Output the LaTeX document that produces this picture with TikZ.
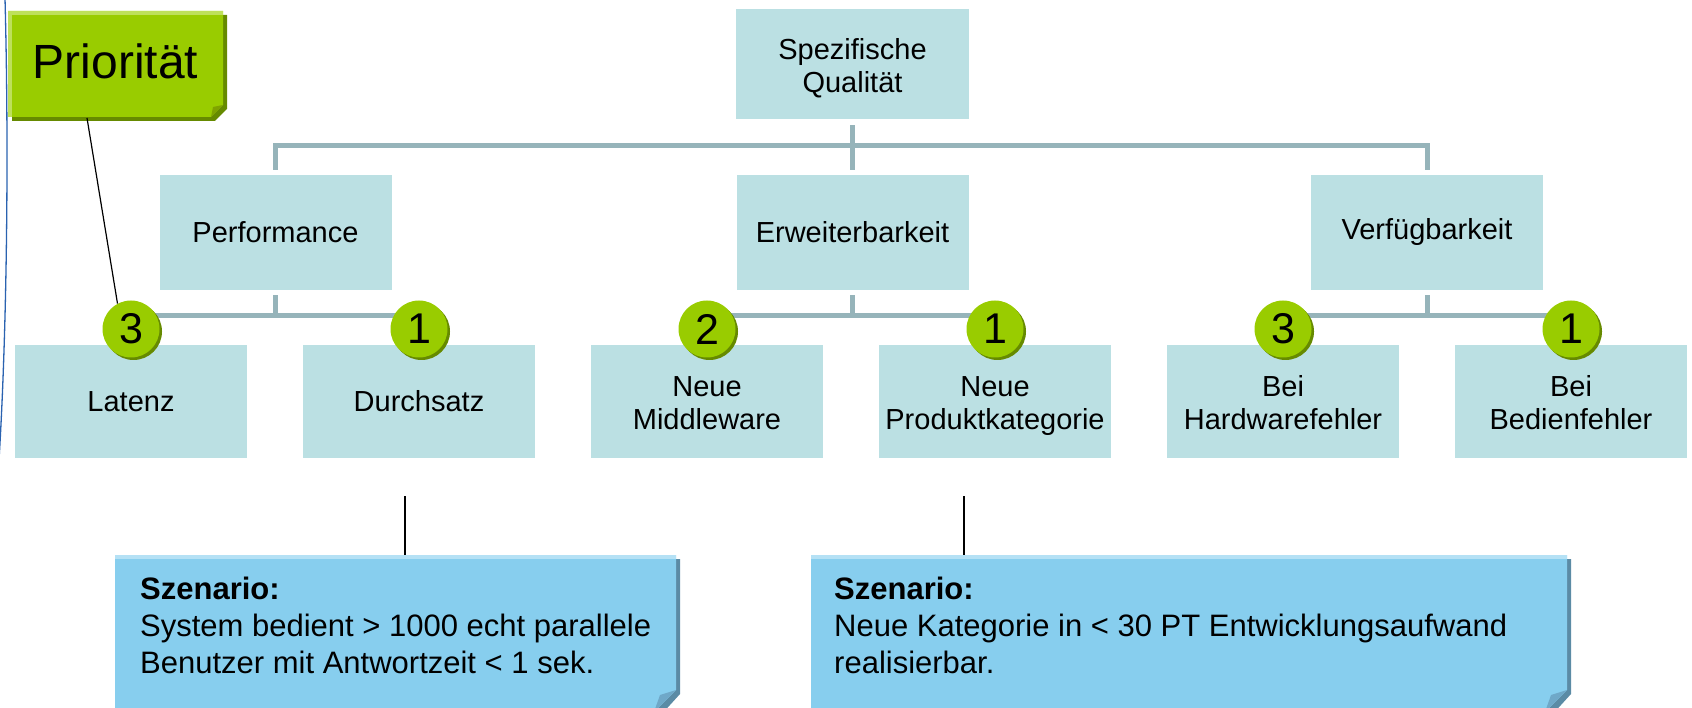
\documentclass[tikz,border=0pt]{standalone}
\usepackage{fontspec}
\setmainfont{Liberation Sans}
\usetikzlibrary{shadows,calc}
\definecolor{boxc}{HTML}{BBE0E3}
\definecolor{barc}{HTML}{96B4BA}
\definecolor{bgreen}{HTML}{99CC00}
\definecolor{bdark}{HTML}{668A00}
\definecolor{glight}{HTML}{BEE05A}
\definecolor{gfold}{HTML}{7FA300}
\definecolor{scenc}{HTML}{87CEEE}
\definecolor{scdark}{HTML}{5B8BA5}
\definecolor{sclight}{HTML}{B5E1F5}
\definecolor{scfold}{HTML}{6FA8C8}
\definecolor{curveblue}{HTML}{2A62B0}
\newcommand{\twolines}[2]{\raisebox{-11.25pt}[0pt][0pt]{\begin{tabular}{@{}c@{}}#1\\#2\end{tabular}}}
\begin{document}
\begin{tikzpicture}[x=1pt,y=-1pt,
  qbox/.style={rectangle, fill=boxc, inner sep=0pt, minimum width=232pt, minimum height=114pt, align=center, font=\fontsize{29}{33}\selectfont},
  bar/.style={draw=barc, line width=5pt, line join=miter},
  badge/.style={circle, fill=bgreen, minimum size=57pt, inner sep=0pt, font=\fontsize{43}{43}\selectfont, drop shadow={shadow xshift=2.5pt, shadow yshift=-2.5pt, fill=bdark, opacity=1}},
  conn/.style={draw=black, line width=1.2pt},
  sctext/.style={anchor=north west, align=left, inner sep=0pt, font=\fontsize{31}{37}\selectfont},
  frame/.style={inner sep=0pt, minimum width=#1, anchor=north west}
]
\useasboundingbox (0,0) rectangle (1692,708);
\clip (0,0) rectangle (1692,708);

% left blue curve
\draw[curveblue, line width=1.3pt] (5,-2) .. controls (9,150) and (7,330) .. (-1,460);

% Prioritaet note
\fill[bdark] (12,15) -- (227,15) -- (227,109) -- (215,121) -- (12,121) -- cycle;
\fill[bgreen] (8,11) -- (223,11) -- (223,105) -- (211,117) -- (8,117) -- cycle;
\fill[glight] (8,11) rectangle (223,15);
\fill[glight] (8,11) rectangle (12,117);
\fill[gfold] (223,105) -- (211,117) -- (213,107) -- cycle;
\node[inner sep=0pt, minimum width=215pt, minimum height=106pt, font=\fontsize{48}{48}\selectfont] (prio) at (115.5,61) {Priorität};

% tree boxes
\node[qbox, minimum width=233pt, minimum height=110pt] (top) at (852.5,64) {\twolines{Spezifische}{Qualität}};
\node[qbox, minimum height=115pt] (perf) at (275.5,232.5) {Performance};
\node[qbox, minimum height=115pt] (erw) at (852.5,232.5) {Erweiterbarkeit};
\node[qbox, minimum height=115pt] (verf) at (1427,232.5) {Verfügbarkeit};
\node[qbox, minimum height=113pt] (lat) at (131,401.5) {Latenz};
\node[qbox, minimum height=113pt] (dur) at (419,401.5) {Durchsatz};
\node[qbox, minimum height=113pt] (mid) at (707,401.5) {\twolines{Neue}{Middleware}};
\node[qbox, minimum height=113pt] (prod) at (995,401.5) {\twolines{Neue}{Produktkategorie}};
\node[qbox, minimum height=113pt] (hw) at (1283,401.5) {\twolines{Bei}{Hardwarefehler}};
\node[qbox, minimum height=113pt] (bed) at (1571,401.5) {\twolines{Bei}{Bedienfehler}};

% connectors of the tree
\coordinate (tj) at (852.5,146);
\draw[bar] ([yshift=-6pt]top.south) -- (tj);
\draw[bar] ([yshift=5pt]perf.north) |- (tj) -| ([yshift=5pt]verf.north);
\draw[bar] (tj) -- ([yshift=5pt]erw.north);
\coordinate (pj) at (275.5,316);
\coordinate (ej) at (852.5,316);
\coordinate (vj) at (1427,316);
\draw[bar] ([yshift=-5pt]perf.south) -- (pj);
\draw[bar] (lat.north |- pj) -- (dur.north |- pj);
\draw[bar] ([yshift=-5pt]erw.south) -- (ej);
\draw[bar] (mid.north |- ej) -- (prod.north |- ej);
\draw[bar] ([yshift=-5pt]verf.south) -- (vj);
\draw[bar] (hw.north |- vj) -- (bed.north |- vj);

% badges
\node[badge] (bL) at (131,329) {3};
\node[badge] (bD) at (419,329) {1};
\node[badge] (bM) at (707,329) {2};
\node[badge] (bP) at (995,329) {1};
\node[badge] (bH) at (1283,329) {3};
\node[badge] (bB) at (1571,329) {1};

\draw[conn] (87,118) -- (bL.118);

% scenario notes
\fill[scdark] (119,559) -- (680,559) -- (680,694) -- (660,716) -- (119,716) -- cycle;
\fill[scenc] (115,555) -- (676,555) -- (676,690) -- (654,712) -- (115,712) -- cycle;
\fill[sclight] (115,555) rectangle (676,559);
\fill[scfold] (676,690) -- (654,712) -- (660,695) -- cycle;
\node[frame=561pt, minimum height=157pt] (sc1) at (115,555) {};
\node[sctext] (t1) at (140,577) {\textbf{Szenario:}\\System bedient > 1000 echt parallele\\Benutzer mit Antwortzeit < 1 sek.};

\fill[scdark] (815,559) -- (1571,559) -- (1571,694) -- (1551,716) -- (815,716) -- cycle;
\fill[scenc] (811,555) -- (1567,555) -- (1567,690) -- (1545,712) -- (811,712) -- cycle;
\fill[sclight] (811,555) rectangle (1567,559);
\fill[scfold] (1567,690) -- (1545,712) -- (1551,695) -- cycle;
\node[frame=756pt, minimum height=157pt] (sc2) at (811,555) {};
\node[sctext] (t2) at (834,577) {\textbf{Szenario:}\\Neue Kategorie in < 30 PT Entwicklungsaufwand\\realisierbar.};

\coordinate (c1) at (405,496);
\coordinate (c2) at (964,496);
\draw[conn] (c1) -- (c1 |- sc1.north);
\draw[conn] (c2) -- (c2 |- sc2.north);
\end{tikzpicture}
\end{document}
